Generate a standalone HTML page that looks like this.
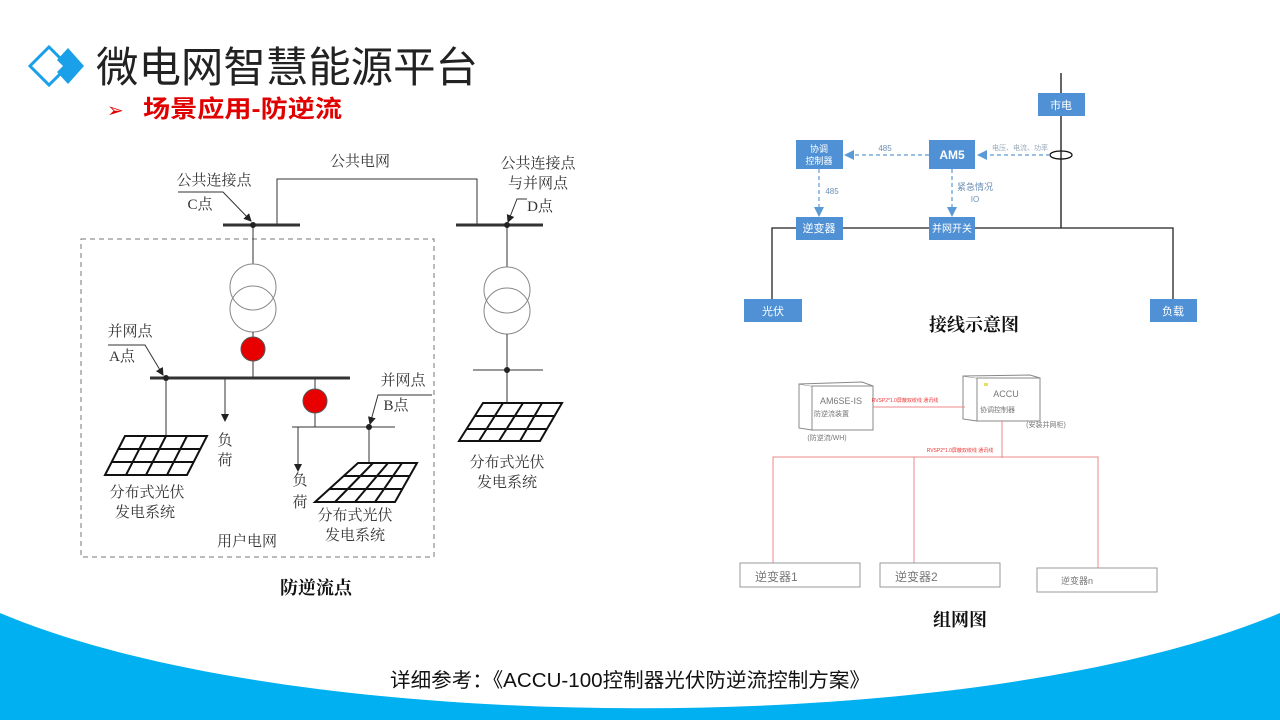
<!DOCTYPE html>
<html><head><meta charset="utf-8"><style>
html,body{margin:0;padding:0;background:#fff;}
body{width:1280px;height:720px;overflow:hidden;position:relative;}
svg{position:absolute;left:0;top:0;}
.s{font-family:"Liberation Serif","Noto Serif CJK SC",serif;}
.a{font-family:"Liberation Sans","Noto Sans CJK SC",sans-serif;}
</style></head><body>
<svg width="1280" height="720" viewBox="0 0 1280 720" xmlns="http://www.w3.org/2000/svg">
<defs>
<marker id="ar" markerWidth="8" markerHeight="8" refX="7" refY="4" orient="auto" markerUnits="userSpaceOnUse"><path d="M0,0 L8,4 L0,8 Z" fill="#222"/></marker>
<marker id="ab" markerWidth="10" markerHeight="10" refX="9" refY="5" orient="auto" markerUnits="userSpaceOnUse"><path d="M0,0 L10,5 L0,10 Z" fill="#5b9bd5"/></marker>
</defs>
<path d="M0,613 C300,740 980,740 1280,613 L1280,720 L0,720 Z" fill="#00b0f0"/>
<text x="630" y="687" text-anchor="middle" class="a" font-size="20" fill="#111" textLength="480" lengthAdjust="spacingAndGlyphs">详细参考：《ACCU-100控制器光伏防逆流控制方案》</text>

<path d="M49,47 L68,66 L49,85 L30,66 Z" fill="#fff" stroke="#1aa0e8" stroke-width="3"/>
<path d="M68,48 L84,66 L68,84 L57,72 L63,66 L57,60 Z" fill="#1aa0e8"/>
<text x="96" y="82" class="a" font-size="42" fill="#222" textLength="382" lengthAdjust="spacingAndGlyphs">微电网智慧能源平台</text>
<text x="107" y="117" class="a" font-size="20" fill="#e00000">➢</text>
<text x="143" y="117" class="a" font-size="24" font-weight="bold" fill="#e00000" textLength="199" lengthAdjust="spacingAndGlyphs">场景应用-防逆流</text>

<g stroke="#333" fill="none" stroke-width="1">
<rect x="81" y="239" width="353" height="318" stroke="#777" stroke-dasharray="5,4"/>
<path d="M277,225 V179 H477 V225"/>
<line x1="223" y1="225" x2="300" y2="225" stroke-width="3"/>
<line x1="456" y1="225" x2="543" y2="225" stroke-width="3"/>
<line x1="253" y1="225" x2="253" y2="264"/>
<circle cx="253" cy="287" r="23" stroke="#888"/>
<circle cx="253" cy="309" r="23" stroke="#888"/>
<line x1="253" y1="332" x2="253" y2="378"/>
<line x1="150" y1="378" x2="350" y2="378" stroke-width="3"/>
<line x1="166" y1="378" x2="166" y2="436"/>
<line x1="225" y1="378" x2="225" y2="421" marker-end="url(#ar)"/>
<line x1="315" y1="378" x2="315" y2="427"/>
<line x1="292" y1="427" x2="395" y2="427"/>
<line x1="369" y1="427" x2="369" y2="463"/>
<line x1="298" y1="427" x2="298" y2="471" marker-end="url(#ar)"/>
<line x1="507" y1="225" x2="507" y2="267"/>
<circle cx="507" cy="290" r="23" stroke="#888"/>
<circle cx="507" cy="311" r="23" stroke="#888"/>
<line x1="507" y1="334" x2="507" y2="403"/>
<line x1="473" y1="370" x2="543" y2="370"/>
<path d="M178,192 H223 L251,221" marker-end="url(#ar)"/>
<path d="M108,345 H145 L163,375" marker-end="url(#ar)"/>
<path d="M432,395 H378 L370,424" marker-end="url(#ar)"/>
<path d="M527,199 H517 L508,222" marker-end="url(#ar)"/>
</g>
<g fill="#222">
<circle cx="253" cy="225" r="3"/><circle cx="507" cy="225" r="3"/>
<circle cx="166" cy="378" r="3"/><circle cx="369" cy="427" r="3"/><circle cx="507" cy="370" r="3"/>
</g>
<circle cx="253" cy="349" r="12" fill="#e80000" stroke="#555"/>
<circle cx="315" cy="401" r="12" fill="#e80000" stroke="#555"/>
<g stroke="#111" stroke-width="2" fill="#fff">
<path d="M125,436 H207 L187,475 H105 Z"/>
<path d="M118,449 H200 M112,462 H194 M146,436 L126,475 M166,436 L146,475 M187,436 L167,475" fill="none"/>
<path d="M358,463 H417 L395,502 H315 Z"/>
<path d="M344,476 H410 M329,489 H402 M373,463 L335,502 M388,463 L355,502 M402,463 L375,502" fill="none"/>
<path d="M483,403 H562 L540,441 H459 Z"/>
<path d="M475,416 H555 M467,429 H547 M503,403 L479,441 M523,403 L499,441 M542,403 L520,441" fill="none"/>
</g>
<g class="s" font-size="15" fill="#333" text-anchor="middle">
<text x="360" y="166">公共电网</text>
<text x="214" y="185">公共连接点</text>
<text x="200" y="209">C点</text>
<text x="538" y="168">公共连接点</text>
<text x="538" y="188">与并网点</text>
<text x="540" y="211">D点</text>
<text x="130" y="336">并网点</text>
<text x="122" y="361">A点</text>
<text x="403" y="385">并网点</text>
<text x="396" y="410">B点</text>
<text x="225" y="445">负</text><text x="225" y="465">荷</text>
<text x="300" y="485">负</text><text x="300" y="507">荷</text>
<text x="147" y="497">分布式光伏</text><text x="145" y="517">发电系统</text>
<text x="355" y="520">分布式光伏</text><text x="355" y="540">发电系统</text>
<text x="507" y="467">分布式光伏</text><text x="507" y="487">发电系统</text>
<text x="247" y="546">用户电网</text>
</g>
<text x="316" y="594" text-anchor="middle" class="s" font-size="18" font-weight="bold" fill="#111">防逆流点</text>

<g stroke="#444" fill="none">
<line x1="1061" y1="73" x2="1061" y2="228" stroke="#666" stroke-width="2"/>
<path d="M772,299 V228 H1173 V299" stroke="#222" stroke-width="1.3"/>
<ellipse cx="1061" cy="155" rx="11" ry="4" stroke="#111" stroke-width="1.3"/>
</g>
<g stroke="#5b9bd5" stroke-width="1.2" stroke-dasharray="4,3" fill="none">
<line x1="1050" y1="155" x2="978" y2="155" marker-end="url(#ab)"/>
<line x1="929" y1="155" x2="845" y2="155" marker-end="url(#ab)"/>
<line x1="819" y1="169" x2="819" y2="216" marker-end="url(#ab)"/>
<line x1="952" y1="169" x2="952" y2="216" marker-end="url(#ab)"/>
</g>
<g fill="#4f91d4">
<rect x="1038" y="93" width="47" height="23"/>
<rect x="929" y="140" width="46" height="29"/>
<rect x="796" y="140" width="47" height="29"/>
<rect x="796" y="217" width="47" height="23"/>
<rect x="929" y="217" width="46" height="23"/>
<rect x="744" y="299" width="58" height="23"/>
<rect x="1150" y="299" width="47" height="23"/>
</g>
<g class="a" fill="#fff" text-anchor="middle" font-size="11">
<text x="1061" y="109">市电</text>
<text x="952" y="159" font-size="12" font-weight="bold">AM5</text>
<text x="819" y="152" font-size="9">协调</text><text x="819" y="164" font-size="9">控制器</text>
<text x="819" y="232">逆变器</text>
<text x="952" y="232" font-size="10">并网开关</text>
<text x="773" y="315">光伏</text>
<text x="1173" y="315">负载</text>
</g>
<g class="a" text-anchor="middle" fill="#6a8fb5">
<text x="1020" y="150" font-size="7" fill="#9ab">电压、电流、功率</text>
<text x="885" y="151" font-size="8">485</text>
<text x="832" y="194" font-size="8">485</text>
<text x="975" y="190" font-size="9">紧急情况</text>
<text x="975" y="202" font-size="8">IO</text>
</g>
<text x="974" y="331" text-anchor="middle" class="s" font-size="18" font-weight="bold" fill="#111">接线示意图</text>

<g stroke="#888" fill="#fff" stroke-width="1">
<path d="M799,384 L812,386 V430 L799,428 Z"/>
<path d="M799,384 L862,382 L873,386 L812,386"/>
<rect x="812" y="386" width="61" height="44"/>
<path d="M963,376 L977,378 V421 L963,419 Z"/>
<path d="M963,376 L1030,375 L1040,378 L977,378"/>
<rect x="977" y="378" width="63" height="43"/>
</g>
<rect x="984" y="383" width="4" height="3" fill="#e8e060"/>
<g stroke="#e88" stroke-width="1" fill="none">
<line x1="873" y1="407" x2="965" y2="407"/>
<line x1="1002" y1="421" x2="1002" y2="458"/>
<path d="M773,563 V457 H1098 V568"/>
<line x1="914" y1="457" x2="914" y2="563"/>
</g>
<g stroke="#999" fill="#fff">
<rect x="740" y="563" width="120" height="24"/>
<rect x="880" y="563" width="120" height="24"/>
<rect x="1037" y="568" width="120" height="24"/>
</g>
<g class="a" fill="#777">
<text x="841" y="404" font-size="9" text-anchor="middle">AM6SE-IS</text>
<text x="814" y="416" font-size="7">防逆流装置</text>
<text x="827" y="440" font-size="7" text-anchor="middle">(防逆流/WH)</text>
<text x="1006" y="397" font-size="9" text-anchor="middle">ACCU</text>
<text x="980" y="412" font-size="7">协调控制器</text>
<text x="1046" y="427" font-size="7" text-anchor="middle">(安装并网柜)</text>
<text x="905" y="402" font-size="5" fill="#e33" text-anchor="middle">RVSP2*1.0屏蔽双绞线 通讯线</text>
<text x="960" y="452" font-size="5" fill="#e33" text-anchor="middle">RVSP2*1.0屏蔽双绞线 通讯线</text>
<text x="755" y="581" font-size="12">逆变器1</text>
<text x="895" y="581" font-size="12">逆变器2</text>
<text x="1061" y="584" font-size="9">逆变器n</text>
</g>
<text x="960" y="626" text-anchor="middle" class="s" font-size="18" font-weight="bold" fill="#111">组网图</text>
</svg>
</body></html>
